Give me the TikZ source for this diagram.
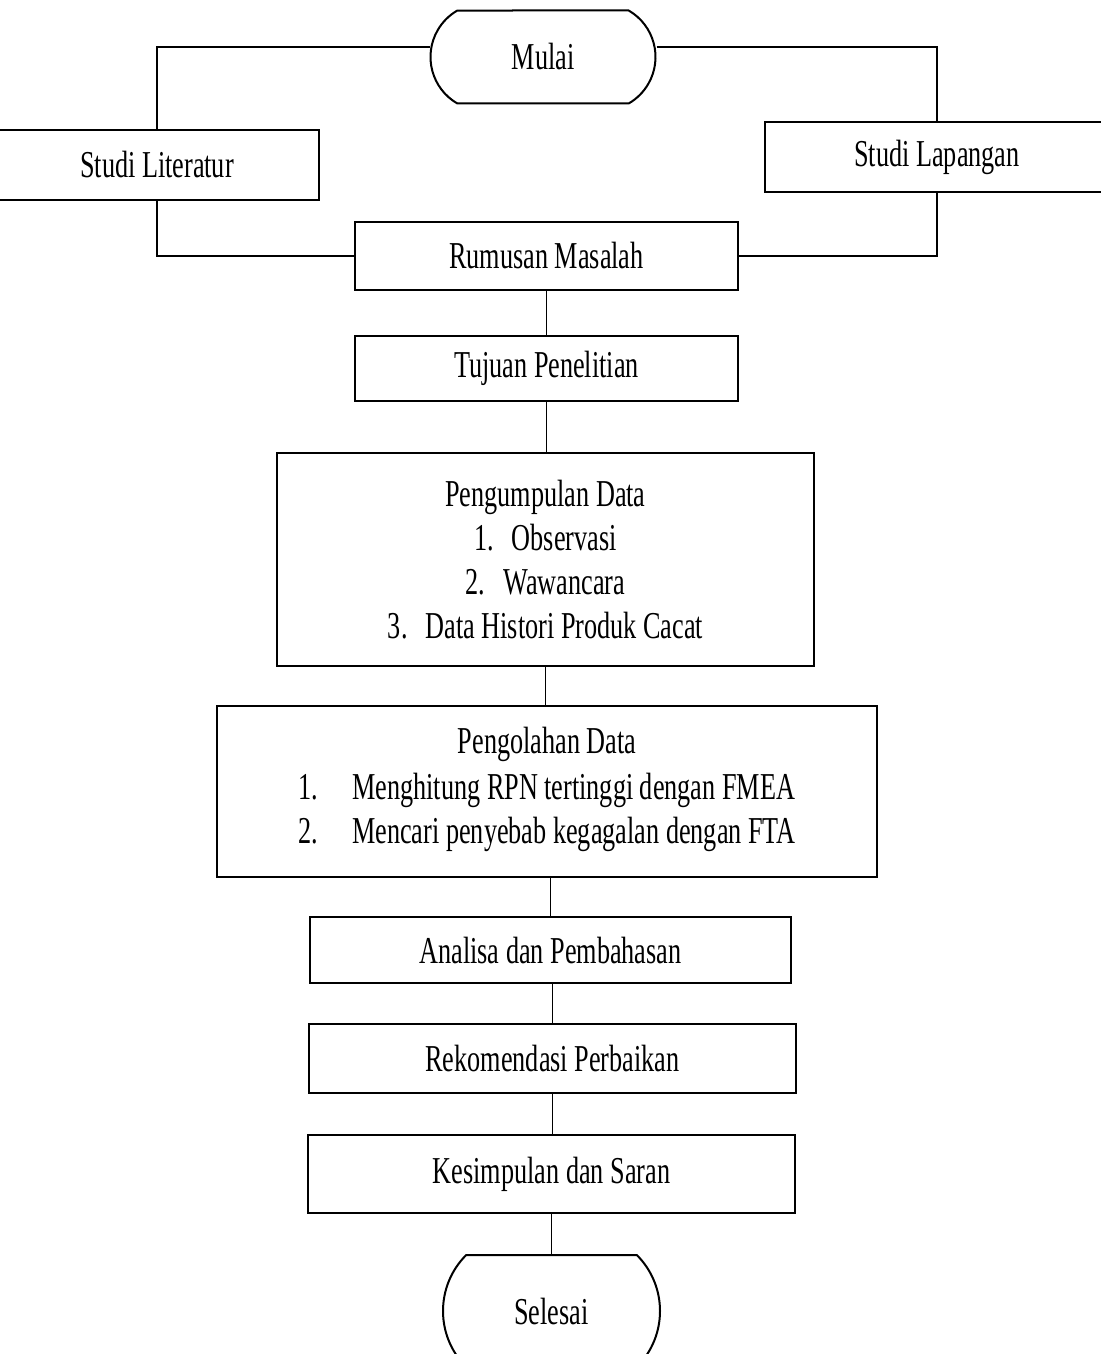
\documentclass[tikz,border=0pt]{standalone}
\usepackage{fontspec}
\setmainfont{Liberation Serif}[FakeStretch=0.69]
\usetikzlibrary{shapes.misc}

\begin{document}
\begin{tikzpicture}[x=0.5pt, y=-0.5pt, line width=0.8pt]
        \tikzset{box/.style={rectangle, draw, line width=1pt, inner sep=0pt, align=center, font=\fontsize{19}{22}\selectfont}}
        \tikzset{term/.style={rounded rectangle, rounded rectangle arc length=120, draw, line width=1pt, inner sep=0pt, font=\fontsize{19}{22}\selectfont}}

        \useasboundingbox (0,0) rectangle (1101,1354);

        \node [term, minimum width=112.5pt, minimum height=46.5pt] (mulai) at (543,57) {Mulai};
        \node [box, minimum width=162pt, minimum height=35pt] (literatur) at (157,165) {Studi Literatur};
        \node [box, minimum width=172pt, minimum height=35pt] (lapangan) at (937,157) {Studi Lapangan};
        \node [box, minimum width=191.5pt, minimum height=34pt] (rumusan) at (546.5,256) {Rumusan Masalah};
        \node [box, minimum width=191.5pt, minimum height=32.5pt] (tujuan) at (546.5,368.5) {Tujuan Penelitian};
        \node [box, minimum width=268.5pt, minimum height=106.5pt] (kumpul) at (545.5,559.5)
            {Pengumpulan Data\\1.\hspace{9pt}Observasi\\2.\hspace{9pt}Wawancara\\3.\hspace{9pt}Data Histori Produk Cacat};
        \node [box, minimum width=330pt, minimum height=85.5pt] (olah) at (547,791.5)
            {Pengolahan Data\\[1pt]\begin{tabular}[t]{@{}p{27pt}@{}l@{}}1. & Menghitung RPN tertinggi dengan FMEA\\2. & Mencari penyebab kegagalan dengan FTA\end{tabular}};
        \node [box, minimum width=240.5pt, minimum height=33pt] (analisa) at (550.5,950) {Analisa dan Pembahasan};
        \node [box, minimum width=243.5pt, minimum height=34.5pt] (rekom) at (552.5,1058.5) {Rekomendasi Perbaikan};
        \node [box, minimum width=243.5pt, minimum height=39pt] (simpul) at (551.5,1174) {Kesimpulan dan Saran};
        \node [term, rounded rectangle arc length=90, minimum width=108.5pt, minimum height=56pt] (selesai) at (551.5,1311) {Selesai};

        \draw ([yshift=5pt]mulai.west) -| (literatur.north);
        \draw ([yshift=5pt]mulai.east) -| (lapangan.north);
        \draw (literatur.south) |- (rumusan.west);
        \draw (lapangan.south) |- (rumusan.east);
        \draw (rumusan.south) -- (tujuan.north);
        \draw (tujuan.south) -- (tujuan.south |- kumpul.north);
        \draw (kumpul.south) -- (kumpul.south |- olah.north);
        \draw (analisa.north |- olah.south) -- (analisa.north);
        \draw (rekom.north |- analisa.south) -- (rekom.north);
        \draw (rekom.south) -- (rekom.south |- simpul.north);
        \draw (simpul.south) -- (simpul.south |- selesai.north);
    \end{tikzpicture}
\end{document}
